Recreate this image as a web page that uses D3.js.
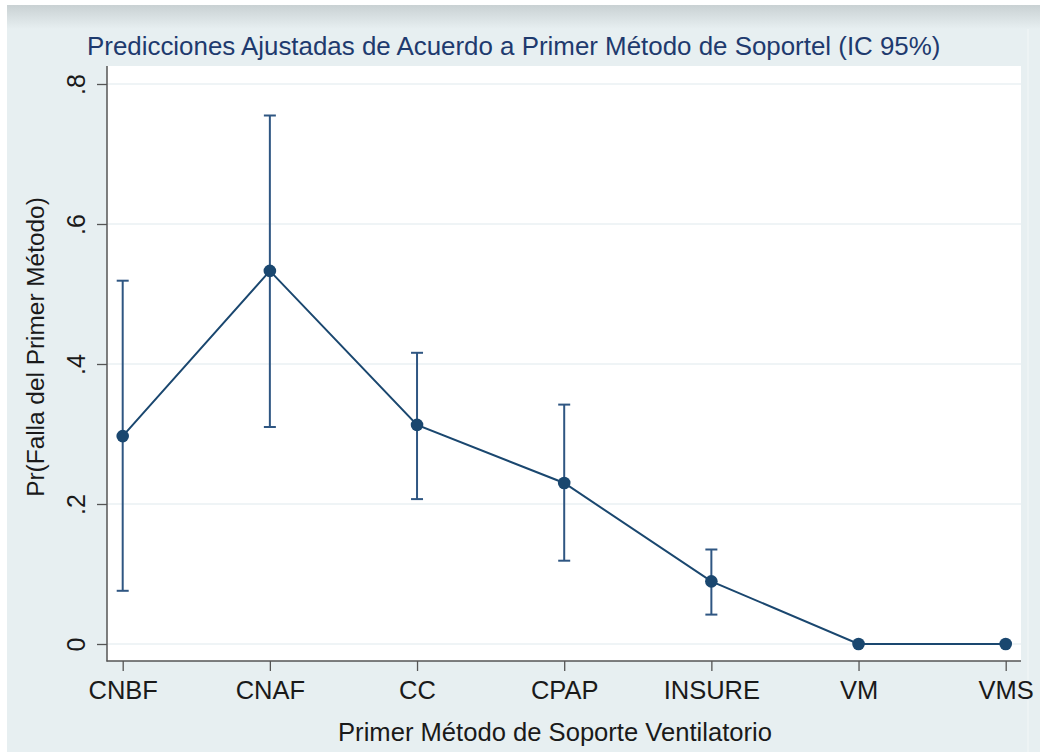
<!DOCTYPE html>
<html>
<head>
<meta charset="utf-8">
<script src="https://cdn.jsdelivr.net/npm/d3@7"></script>
<style>
  html, body { margin: 0; padding: 0; background: #ffffff; }
  svg { display: block; }
  text { font-family: "Liberation Sans", Arial, sans-serif; }
</style>
</head>
<body>
<svg id="chart" width="1040" height="754"></svg>
<script>
// ---- data ----
const categories = ["CNBF", "CNAF", "CC", "CPAP", "INSURE", "VM", "VMS"];
const predicted  = [0.297, 0.533, 0.313, 0.230, 0.0895, 0.0, 0.0];
const ciLower    = [0.076, 0.310, 0.207, 0.119, 0.042, 0.0, 0.0];
const ciUpper    = [0.519, 0.755, 0.416, 0.342, 0.135, 0.0, 0.0];
const yTicks     = [0, 0.2, 0.4, 0.6, 0.8];
const yTickLabels = ["0", ".2", ".4", ".6", ".8"];
const titleText  = "Predicciones Ajustadas de Acuerdo a Primer Método de Soportel (IC 95%)";
const xTitle     = "Primer Método de Soporte Ventilatorio";
const yTitle     = "Pr(Falla del Primer Método)";

const rows = categories.map((c, i) => ({ cat: c, p: predicted[i], lo: ciLower[i], hi: ciUpper[i] }));

// ---- layout ----
const W = 1040, H = 754;
const plot = { left: 107, right: 1021, top: 66, bottom: 661 };
const navy = "#1a476f";
const capColor = "#2f5682";
const svg = d3.select("#chart");

// backgrounds
const defs = svg.append("defs");
const grad = defs.append("linearGradient").attr("id", "topfade").attr("x1", 0).attr("x2", 0).attr("y1", 0).attr("y2", 1);
grad.append("stop").attr("offset", "0%").attr("stop-color", "#c9d1d3");
grad.append("stop").attr("offset", "100%").attr("stop-color", "#e7eff1");
svg.append("rect").attr("x", 0).attr("y", 0).attr("width", W).attr("height", H).attr("fill", "#ffffff");
svg.append("rect").attr("x", 7).attr("y", 5).attr("width", W - 7).attr("height", 747).attr("fill", "#e7eff1");
svg.append("rect").attr("x", 7).attr("y", 5).attr("width", W - 7).attr("height", 24).attr("fill", "url(#topfade)");
svg.append("rect").attr("x", 1027).attr("y", 29).attr("width", 2).attr("height", 723).attr("fill", "#edf3f4");

// plot region
svg.append("rect")
  .attr("x", plot.left).attr("y", plot.top)
  .attr("width", plot.right - plot.left).attr("height", plot.bottom - plot.top)
  .attr("fill", "#ffffff");

// ---- scales ----
const x = d3.scalePoint().domain(categories).range([122.7, 1005.7]);
const y = d3.scaleLinear().domain([0, 0.8]).range([644, 84]);

// gridlines
svg.append("g").selectAll("line").data(yTicks).join("line")
  .attr("x1", plot.left + 1).attr("x2", plot.right)
  .attr("y1", d => y(d)).attr("y2", d => y(d))
  .attr("stroke", "#eaf1f3").attr("stroke-width", 1.5);

// y axis
const yAxis = d3.axisLeft(y).tickValues(yTicks).tickSize(10).tickSizeOuter(0)
  .tickFormat((d, i) => yTickLabels[i]);
const gy = svg.append("g").attr("transform", `translate(${plot.left},0)`).call(yAxis);
gy.select(".domain").remove();
gy.selectAll(".tick line").attr("stroke", "#555555").attr("stroke-width", 1.3);
gy.selectAll(".tick text")
  .attr("font-size", 25).attr("fill", "#1a1a1a")
  .attr("text-anchor", "middle")
  .attr("dy", 0).attr("x", 0)
  .attr("transform", "translate(-22,0) rotate(-90)");
svg.append("line").attr("x1", plot.left).attr("x2", plot.left)
  .attr("y1", plot.top).attr("y2", plot.bottom + 0.5)
  .attr("stroke", "#555555").attr("stroke-width", 1.5);

// x axis
const xAxis = d3.axisBottom(x).tickSize(10).tickSizeOuter(0);
const gx = svg.append("g").attr("transform", `translate(0,${plot.bottom})`).call(xAxis);
gx.select(".domain").remove();
gx.selectAll(".tick line").attr("stroke", "#555555").attr("stroke-width", 1.3);
gx.selectAll(".tick text").attr("font-size", 25.5).attr("fill", "#1a1a1a").attr("y", 20).attr("dy", "0.71em");
svg.append("line").attr("x1", plot.left - 0.5).attr("x2", plot.right)
  .attr("y1", plot.bottom).attr("y2", plot.bottom)
  .attr("stroke", "#555555").attr("stroke-width", 1.5);

// ---- error bars ----
const withCI = rows.filter(d => d.hi > d.lo);
const eb = svg.append("g");
eb.selectAll("line.v").data(withCI).join("line").attr("class", "v")
  .attr("x1", d => x(d.cat)).attr("x2", d => x(d.cat))
  .attr("y1", d => y(d.lo)).attr("y2", d => y(d.hi))
  .attr("stroke", capColor).attr("stroke-width", 2);
eb.selectAll("line.capHi").data(withCI).join("line").attr("class", "capHi")
  .attr("x1", d => x(d.cat) - 6).attr("x2", d => x(d.cat) + 6)
  .attr("y1", d => y(d.hi)).attr("y2", d => y(d.hi))
  .attr("stroke", capColor).attr("stroke-width", 2);
eb.selectAll("line.capLo").data(withCI).join("line").attr("class", "capLo")
  .attr("x1", d => x(d.cat) - 6).attr("x2", d => x(d.cat) + 6)
  .attr("y1", d => y(d.lo)).attr("y2", d => y(d.lo))
  .attr("stroke", capColor).attr("stroke-width", 2);

// ---- line + markers ----
const line = d3.line().x(d => x(d.cat)).y(d => y(d.p));
svg.append("path").datum(rows).attr("d", line)
  .attr("fill", "none").attr("stroke", navy).attr("stroke-width", 2);
svg.append("g").selectAll("circle").data(rows).join("circle")
  .attr("cx", d => x(d.cat)).attr("cy", d => y(d.p)).attr("r", 6.3)
  .attr("fill", navy);

// ---- titles ----
svg.append("text").attr("x", 87).attr("y", 55)
  .attr("font-size", 25.9).attr("fill", "#1e3a6e").text(titleText);
svg.append("text").attr("x", 555).attr("y", 741)
  .attr("text-anchor", "middle").attr("font-size", 25.6).attr("fill", "#1a1a1a").text(xTitle);
svg.append("text").attr("transform", "translate(44,347) rotate(-90)")
  .attr("text-anchor", "middle").attr("font-size", 24.4).attr("fill", "#1a1a1a").text(yTitle);
</script>
</body>
</html>
